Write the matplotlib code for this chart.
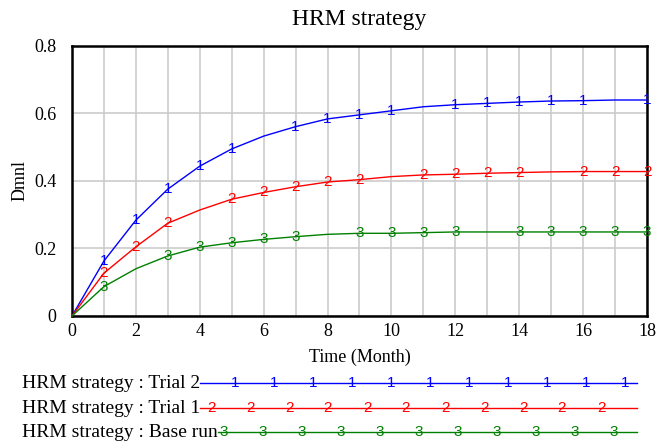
import matplotlib.pyplot as plt
from matplotlib.lines import Line2D

# simulation output, one value per month
months = list(range(0, 19))
trial2 = [0, 0.163, 0.284, 0.376, 0.444, 0.495, 0.533, 0.561, 0.584, 0.596,
          0.608, 0.620, 0.626, 0.630, 0.634, 0.637, 0.638, 0.640, 0.640]
trial1 = [0, 0.127, 0.205, 0.275, 0.314, 0.346, 0.366, 0.383, 0.397, 0.404,
          0.413, 0.418, 0.420, 0.423, 0.425, 0.427, 0.428, 0.428, 0.428]
base_run = [0, 0.087, 0.140, 0.178, 0.204, 0.217, 0.227, 0.235, 0.242, 0.245,
            0.245, 0.247, 0.249, 0.249, 0.249, 0.249, 0.249, 0.249, 0.249]

# months where the run number is stamped on each curve
marks_trial2 = [1, 2, 3, 4, 5, 7, 8, 9, 10, 12, 13, 14, 15, 16, 18]
marks_trial1 = [1, 2, 3, 5, 6, 7, 8, 9, 11, 12, 13, 14, 16, 17, 18]
marks_base = [1, 3, 4, 5, 6, 7, 9, 10, 11, 12, 14, 15, 16, 17, 18]

series = [
    ("HRM strategy : Trial 2", trial2, marks_trial2, "1", "#0000FF"),
    ("HRM strategy : Trial 1", trial1, marks_trial1, "2", "#FF0000"),
    ("HRM strategy : Base run", base_run, marks_base, "3", "#008000"),
]

serif = "Liberation Serif"
sans = "Liberation Sans"

fig = plt.figure(figsize=(6.58, 4.44), dpi=100)
ax = fig.add_axes([0.1094, 0.2883, 0.8739, 0.6081])

for name, vals, marks, digit, col in series:
    ax.plot(months, vals, color=col, linewidth=1.0, zorder=3, clip_on=False)
    for m in marks:
        ax.text(m, vals[m], digit, color=col, fontsize=11, family=sans,
                ha="center", va="center", zorder=4, clip_on=False)

ax.set_xlim(0, 18)
ax.set_ylim(0, 0.8)
ax.set_xticks(range(0, 19, 2))
ax.set_xticks(range(0, 19), minor=True)
ax.set_yticks([0, 0.2, 0.4, 0.6, 0.8])
ax.set_yticklabels(["0", "0.2", "0.4", "0.6", "0.8"])
ax.grid(True, which="both", color="#CCCCCC", linewidth=1.2)
ax.set_axisbelow(True)
ax.tick_params(which="both", length=0)
ax.tick_params(axis="x", pad=5)
ax.tick_params(axis="y", pad=11)
for lab in ax.get_xticklabels() + ax.get_yticklabels():
    lab.set_family(serif)
    lab.set_fontsize(13)
for sp in ax.spines.values():
    sp.set_linewidth(1.8)
    sp.set_color("black")

ax.set_title("HRM strategy", family=serif, fontsize=17, pad=15)
ax.set_xlabel("Time (Month)", family=serif, fontsize=13, labelpad=6)
ax.set_ylabel("Dmnl", family=serif, fontsize=13, labelpad=4)

# legend rows drawn under the axes (pixel positions)
W, H = 658.0, 444.0
row_y = [383, 408, 432]
first_mark = [235, 211, 224]
line_end = 637
for (name, vals, marks, digit, col), y, xm in zip(series, row_y, first_mark):
    t = fig.text(22 / W, 1 - y / H, name, family=serif, fontsize=14,
                 ha="left", va="center")
    fig.canvas.draw()
    x0 = t.get_window_extent().x1
    fig.add_artist(Line2D([x0 / W, line_end / W], [1 - y / H, 1 - y / H],
                          color=col, linewidth=1.0, transform=fig.transFigure))
    while xm < line_end - 4:
        fig.text(xm / W, 1 - y / H, digit, color=col, family=sans, fontsize=11,
                 ha="center", va="center")
        xm += 39

fig.savefig("out.png", dpi=100)
